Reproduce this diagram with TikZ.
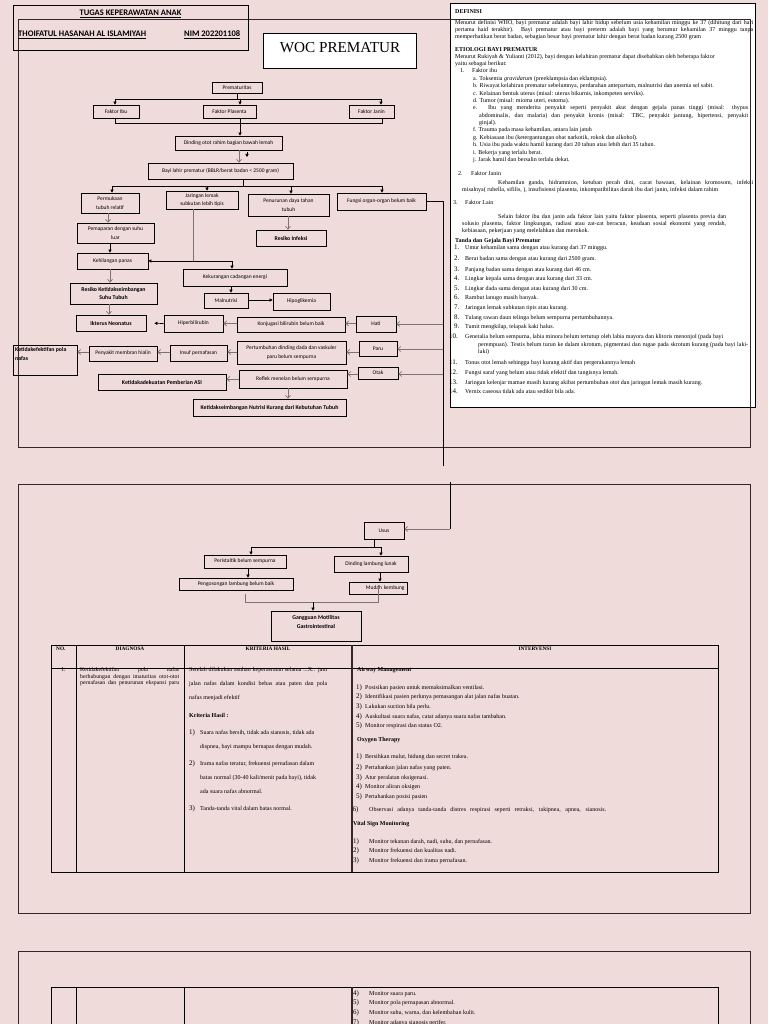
\documentclass[tikz,border=0pt]{standalone}
\usepackage{fontspec}
\setmainfont{Liberation Serif}
\newfontfamily\carl{Carlito}
\usetikzlibrary{arrows.meta}
\definecolor{bg}{RGB}{240,219,219}
\definecolor{gl}{RGB}{125,115,115}
\definecolor{fr}{RGB}{50,40,40}
\newcommand\myfs[1]{\fontsize{#1}{#1}\selectfont}
\begin{document}
\begin{tikzpicture}[x=1pt,y=-1pt,
 fb/.style={draw=black, line width=0.75pt, inner sep=1pt, align=center, font=\carl\fontsize{5.5}{8.5}\selectfont},
 fbb/.style={fb, font=\carl\bfseries\fontsize{5.8}{8.5}\selectfont},
 ln/.style={draw=black, line width=0.7pt},
 lg/.style={draw=gl, line width=0.7pt},
 arr/.style={ln, -{Triangle[length=3pt,width=3.2pt]}},
 oarr/.style={lg, -{Straight Barb[length=2.8pt,width=5pt]}},
 frame/.style={draw=fr, line width=0.9pt},
 hd/.style={inner sep=0, font=\carl\bfseries\myfs{8.5}},
 dt/.style={anchor=base west, inner sep=0, font=\myfs{6}},
 dn/.style={anchor=base west, inner sep=0, font=\myfs{7}},
 tx/.style={anchor=base west, inner sep=0, font=\myfs{6}},
 tn/.style={anchor=base west, inner sep=0, font=\myfs{7}},
 th/.style={anchor=base, inner sep=0, font=\bfseries\myfs{5.3}}]
\useasboundingbox (0,0) rectangle (768,1024);
\fill[bg] (0,0) rectangle (768,1024);

% ---------- definisi box ----------
\draw[black, fill=white, line width=0.8pt] (450,3) rectangle (755,407);
% ---------- page frames ----------
\draw[frame] (18,19) rectangle (750,447);
\draw[frame] (18,484) rectangle (750,913);
\draw[frame] (18,1030) -- (18,951) -- (750,951) -- (750,1030);

% ---------- header ----------
\draw[black, line width=0.75pt] (13,5) rectangle (248,50);
\node[hd] (h1) at (130.5,13.5) {\underline{TUGAS KEPERAWATAN ANAK}};
\node[hd, anchor=base west] (h2) at (18,37) {\underline{THOIFATUL HASANAH AL ISLAMIYAH}};
\node[hd, anchor=base west] (h3) at (184,37) {\underline{NIM 202201108}};
\draw[black, fill=white, line width=0.8pt] (263,33) rectangle (416,68);
\node[inner sep=0, font=\myfs{15.2}] (woc) at (340,48) {WOC PREMATUR};

% ---------- flowchart page 1 ----------
\node[fb, minimum width=50, minimum height=11] (prem) at (237,87.5) {Prematuritas};
\node[fb, minimum width=46, minimum height=13] (fibu) at (116,111.5) {Faktor Ibu};
\node[fb, minimum width=53, minimum height=13] (fplas) at (229.5,111.5) {Faktor Plasenta};
\node[fb, minimum width=45, minimum height=13] (fjan) at (371.5,111.5) {Faktor Janin};
\node[fb, minimum width=107, minimum height=14] (dind) at (228.5,143) {Dinding otot rahim bagian bawah lemah};
\node[fb, minimum width=145, minimum height=16] (bayi) at (220.5,171) {Bayi lahir prematur (BBLR/berat badan < 2500 gram)};
\node[fb, minimum width=58, minimum height=20] (perm) at (110,203) {Permukaan\\tubuh relatif};
\node[fb, minimum width=72, minimum height=18] (jar) at (202,200) {Jaringan lemak\\subkutan lebih tipis};
\node[fb, minimum width=81, minimum height=22] (pen) at (288.5,205) {Penurunan daya tahan\\tubuh};
\node[fb, minimum width=89, minimum height=17] (fung) at (381.5,201.5) {Fungsi organ-organ belum baik};
\node[fb, minimum width=77, minimum height=20] (pem) at (115.5,233) {Pemaparan dengan suhu\\luar};
\node[fbb, minimum width=70, minimum height=16] (resinf) at (291,238) {Resiko Infeksi};
\node[fb, minimum width=71, minimum height=16] (kehil) at (112.5,261) {Kehilangan panas};
\node[fb, minimum width=104, minimum height=17] (kekur) at (235,277.5) {Kekurangan cadangan energi};
\node[fbb, minimum width=87, minimum height=21] (resket) at (113.5,293.5) {Resiko Ketidakseimbangan\\Suhu Tubuh};
\node[fb, minimum width=44, minimum height=15] (maln) at (226,300.5) {Malnutrisi};
\node[fb, minimum width=57, minimum height=17] (hipo) at (301.5,301.5) {Hipoglikemia};
\node[fbb, minimum width=70, minimum height=16] (ikt) at (111,323) {Ikterus Neonatus};
\node[fb, minimum width=59, minimum height=17] (hiper) at (193.5,323.5) {Hiperbilirubin};
\node[fb, minimum width=108, minimum height=15] (konj) at (291,324.5) {Konjugasi bilirubin belum baik};
\node[fb, minimum width=40, minimum height=16] (hati) at (376,324) {Hati};
\node[fb, minimum width=64, minimum height=30] (ketpola) at (45,360) {};
\node[inner sep=0, align=left, anchor=north west, font=\carl\bfseries\fontsize{5.8}{8.5}\selectfont] (ketpolat) at (15,347.5) {Ketidakefektifan pola\\nafas};
\node[fb, minimum width=68, minimum height=15] (peny) at (123,353.5) {Penyakit membran hialin};
\node[fb, minimum width=57, minimum height=16] (insuf) at (198.5,353) {Insuf pernafasan};
\node[fb, minimum width=109, minimum height=23] (pert) at (291.5,352.5) {Pertumbuhan dinding dada dan vaskuler\\paru belum sempurna};
\node[fb, minimum width=38, minimum height=15] (paru) at (378,348.5) {Paru};
\node[fbb, minimum width=128, minimum height=16] (asi) at (162,382) {Ketidakadekuatan Pemberian ASI};
\node[fb, minimum width=108, minimum height=18] (refl) at (293,379) {Reflek menelan belum sempurna};
\node[fb, minimum width=40, minimum height=12] (otak) at (378,373) {Otak};
\node[fbb, minimum width=153, minimum height=17] (nutr) at (269.5,407.5) {Ketidakseimbangan Nutrisi Kurang dari Kebutuhan Tubuh};

\draw[ln] (prem.south) -- (237,99);
\draw[ln] (115,99) -- (381,99);
\draw[arr] (115,99) -- (fibu.north -| 115,0);
\draw[arr] (240,99) -- (fplas.north -| 240,0);
\draw[arr] (381,99) -- (fjan.north -| 381,0);
\draw[ln] (fibu.south -| 115,0) -- (115,123) -- (382,123) -- (fjan.south -| 382,0);
\draw[arr] (fplas.south -| 240,0) -- (dind.north -| 240,0);
\draw[oarr] (dind.south -| 239,0) -- (bayi.north -| 239,0);
\coordinate (tiny1) at (247,152);
\coordinate (tiny2) at (247,157);
\draw[arr] (tiny1) -- (tiny2);
\draw[ln] (bayi.south -| 243,0) -- (243,186);
\draw[ln] (112,186) -- (382,186);
\draw[arr] (112,186) -- (perm.north -| 112,0);
\draw[arr] (207,186) -- (jar.north -| 207,0);
\draw[arr] (291,186) -- (pen.north -| 291,0);
\draw[arr] (382,186) -- (fung.north -| 382,0);
\draw[oarr] (perm.south -| 108,0) -- (pem.north -| 108,0);
\draw[arr] (pem.south -| 110,0) -- (kehil.north -| 110,0);
\draw[lg] (jar.south -| 193,0) -- (193,261);
\draw[arr] (193,261) -- (kehil.east);
\draw[arr] (193,261) -| (kekur.north -| 232,0);
\draw[oarr] (kehil.south -| 110,0) -- (resket.north -| 110,0);
\draw[oarr] (pen.south -| 288,0) -- (resinf.north -| 288,0);
\draw[arr] (kekur.south -| 231,0) -- (maln.north -| 231,0);
\draw[arr] (maln.east |- 0,300) -- (hipo.west |- 0,300);
\draw[oarr] (resket.south -| 109,0) -- (ikt.north -| 109,0);
\draw[arr, shorten >=8pt] (hiper.west) -- (ikt.east);
\draw[oarr] (konj.west |- 0,323.5) -- (hiper.east |- 0,323.5);
\draw[oarr] (hati.west |- 0,323.5) -- (konj.east |- 0,323.5);
\coordinate (vend) at (443,466);
\draw[ln] (fung.east) -| (vend);
\draw[oarr] (443,324) -- (hati.east);
\draw[oarr] (443,349) -- (paru.east |- 0,349);
\draw[oarr] (443,374) -- (otak.east |- 0,374);
\draw[oarr] (paru.west |- 0,352) -- (pert.east |- 0,352);
\draw[oarr] (pert.west |- 0,352) -- (insuf.east |- 0,352);
\draw[oarr] (insuf.west |- 0,352) -- (peny.east |- 0,352);
\draw[oarr] (peny.west |- 0,352) -- (ketpola.east |- 0,352);
\draw[oarr] (otak.west |- 0,374) -- (refl.east |- 0,374);
\draw[oarr] (refl.west |- 0,379) -- (asi.east |- 0,379);
\draw[oarr] (refl.south -| 288,0) -- (nutr.north -| 288,0);

% ---------- definisi text ----------
\node[dt] (d0) at (455,13.5) {\textbf{DEFINISI}};
\node[dt] (d1) at (455,24.5) {\makebox[298pt][s]{Menurut definisi WHO, bayi prematur adalah bayi lahir hidup sebelum usia kehamilan minggu ke 37 (dihitung dari hari}};
\node[dt] (d2) at (455,31.5) {\makebox[298pt][s]{pertama haid terakhir). Bayi prematur atau bayi preterm adalah bayi yang berumur kehamilan 37 minggu tanpa}};
\node[dt] (d3) at (455,38.5) {memperhatikan berat badan, sebagian besar bayi prematur lahir dengan berat badan kurang 2500 gram};
\node[dt] (d4) at (455,52) {\textbf{ETIOLOGI BAYI PREMATUR}};
\node[dt] (d5) at (455,59) {Menurut Rukiyah \& Yulianti (2012), bayi dengan kelahiran prematur dapat disebabkan oleh beberapa faktor};
\node[dt] (d6) at (455,66) {yaitu sebagai berikut:};
\node[dt] (d7) at (460,73) {1.};
\node[dt] (d7b) at (472,73) {Faktor ibu};
\node[dt] (da) at (473,80.5) {a. Toksemia \textit{gravidarum} (preeklampsia dan eklampsia).};
\node[dt] (db) at (473,87.9) {b. Riwayat kelahiran prematur sebelumnya, perdarahan antepartum, malnutrisi dan anemia sel sabit.};
\node[dt] (dc) at (473,95.2) {c. Kelainan bentuk uterus (misal: uterus bikurnis, inkompeten serviks).};
\node[dt] (dd) at (473,102.5) {d. Tumor (misal: mioma uteri, eutoma).};
\node[dt] (de) at (473,109.9) {\makebox[275pt][s]{e. Ibu yang menderita penyakit seperti penyakit akut dengan gejala  panas tinggi (misal: thypus}};
\node[dt] (de2) at (479,117.3) {\makebox[269pt][s]{abdominalis, dan malaria) dan penyakit kronis (misal: TBC, penyakit jantung, hipertensi, penyakit}};
\node[dt] (de3) at (479,124.7) {ginjal).};
\node[dt] (df) at (473,132) {f. Trauma pada masa kehamilan, antara lain jatuh};
\node[dt] (dg) at (473,139.4) {g. Kebiasaan ibu (ketergantungan obat narkotik, rokok dan alkohol).};
\node[dt] (dh) at (473,146.8) {h. Usia ibu pada waktu hamil kurang dari 20 tahun atau lebih dari 35 tahun.};
\node[dt] (di) at (473,154.1) {i. Bekerja yang terlalu berat.};
\node[dt] (dj) at (473,161.5) {j. Jarak hamil dan bersalin terlalu dekat.};
\node[dt] (dk) at (458,175.5) {2.};
\node[dt] (dk2) at (471,175.5) {Faktor Janin};
\node[dt] (dk3) at (498,184.5) {\makebox[255pt][s]{Kehamilan ganda, hidramnion, ketuban pecah dini, cacat bawaan, kelainan kromosom, infeksi}};
\node[dt] (dk4) at (462,191.5) {misalnya( rubella, sifilis, ), insufisiensi plasenta, inkompatibilitas darah ibu dari janin, infeksi dalam rahim};
\node[dt] (dl) at (453,204.5) {3.};
\node[dt] (dl2) at (465,204.5) {Faktor Lain};
\node[dt] (dl3) at (498,218.5) {\makebox[228pt][s]{Selain faktor ibu dan janin ada faktor lain yaitu faktor plasenta, seperti plasenta previa dan}};
\node[dt] (dl4) at (462,225.5) {\makebox[264pt][s]{solusio plasenta, faktor lingkungan, radiasi atau zat-zat beracun, keadaan sosial ekonomi yang rendah,}};
\node[dt] (dl5) at (462,232.5) {kebiasaan, pekerjaan yang melelahkan dan merokok.};
\node[dt] (dm) at (455,242.5) {\textbf{Tanda dan Gejala Bayi Prematur}};
\node[dn] (n1) at (454,249.5) {1.};  \node[dt] (t1) at (465,249.5) {Umur kehamilan sama dengan atau kurang dari 37 minggu.};
\node[dn] (n2) at (454,260) {2.};    \node[dt] (t2) at (465,260) {Berat badan sama dengan atau kurang dari 2500 gram.};
\node[dn] (n3) at (454,271) {3.};    \node[dt] (t3) at (465,271) {Panjang badan sama dengan atau kurang dari 46 cm.};
\node[dn] (n4) at (454,280.5) {4.};  \node[dt] (t4) at (465,280.5) {Lingkar kepala sama dengan atau kurang dari 33 cm.};
\node[dn] (n5) at (454,290) {5.};    \node[dt] (t5) at (465,290) {Lingkar dada sama dengan atau kurang dari 30 cm.};
\node[dn] (n6) at (454,299.5) {6.};  \node[dt] (t6) at (465,299.5) {Rambut lanugo masih banyak.};
\node[dn] (n7) at (454,309) {7.};    \node[dt] (t7) at (465,309) {Jaringan lemak subkutan tipis atau kurang.};
\node[dn] (n8) at (454,319) {8.};    \node[dt] (t8) at (465,319) {Tulang rawan daun telinga belum sempurna pertumbuhannya.};
\node[dn] (n9) at (454,328.5) {9.};  \node[dt] (t9) at (465,328.5) {Tumit mengkilap, telapak kaki halus.};
\node[dn] (n10) at (449,338.5) {10.}; \node[dt] (t10) at (465,338.5) {Genetalia belum sempurna, labia minora belum tertutup oleh labia mayora dan klitoris menonjol (pada bayi};
\node[dt] (t10b) at (478,346.5) {\makebox[270pt][s]{perempuan). Testis belum turun ke dalam skrotum, pigmentasi dan rugae pada skrotum kurang (pada bayi laki-}};
\node[dt] (t10c) at (478,353.5) {laki)};
\node[dn] (n11) at (449,364.5) {11.}; \node[dt] (t11) at (465,364.5) {Tonus otot lemah sehingga bayi kurang aktif dan pergerakannya lemah};
\node[dn] (n12) at (449,374.5) {12.}; \node[dt] (t12) at (465,374.5) {Fungsi saraf yang belum atau tidak efektif dan tangisnya lemah.};
\node[dn] (n13) at (449,384) {13.};   \node[dt] (t13) at (465,384) {Jaringan kelenjar mamae masih kurang akibat pertumbuhan otot dan jaringan lemak masih kurang.};
\node[dn] (n14) at (449,393.5) {14.}; \node[dt] (t14) at (465,393.5) {Vernix caseosa tidak ada atau sedikit bila ada.};

% ---------- page 2 flowchart ----------
\node[fb, minimum width=40, minimum height=17] (usus) at (384,530.5) {Usus};
\node[fb, minimum width=82, minimum height=13] (peri) at (245,561.5) {Peristaltik belum sempurna};
\node[fb, minimum width=74, minimum height=16] (dinl) at (371,564) {Dinding lambung lunak};
\node[fb, minimum width=114, minimum height=12] (peng) at (236,584) {Pengosongan lambung belum baik};
\node[fb, minimum width=58, minimum height=12, align=right, text width=53] (mud) at (378,588) {Mudah kembung};
\node[fb, minimum width=90, minimum height=30] (gang) at (316,626) {};
\node[inner sep=0, align=center, font=\carl\bfseries\fontsize{5.8}{9}\selectfont] (gangt) at (316,621.5) {Gangguan Motilitas\\Gastrointestinal};
\coordinate (p2top) at (450,482);
\draw[ln] (p2top) -- (450,529);
\draw[oarr] (450,529) -- (usus.east |- 0,529);
\draw[ln] (usus.south -| 374,0) -- (374,547);
\draw[ln] (251,547) -- (381,547);
\draw[arr] (251,547) -- (peri.north -| 251,0);
\draw[arr] (381,547) -- (dinl.north -| 381,0);
\draw[arr] (peri.south -| 248,0) -- (peng.north -| 248,0);
\draw[arr] (dinl.south -| 380,0) -- (mud.north -| 380,0);
\draw[lg] (245,594) -- (245,602) -- (378,602) -- (378,585);
\draw[arr] (313,602) -- (gang.north -| 313,0);

% ---------- table page 2 ----------
\draw[black, line width=0.8pt] (51,645) rectangle (718,872);
\draw[black, line width=0.8pt] (51,668) -- (718,668);
\draw[black, line width=0.8pt] (76,645) -- (76,872);
\draw[black, line width=0.8pt] (184,645) -- (184,872);
\draw[fr, line width=1.3pt] (352,645) -- (352,872);
\node[th, anchor=base west] (hno) at (56,650.5) {NO.};
\node[th] (hdg) at (130,650.5) {DIAGNOSA};
\node[th] (hkr) at (268,650.5) {KRITERIA HASIL};
\node[th] (hiv) at (535,650.5) {INTERVENSI};
\node[tx] (r1) at (61,671.5) {1.};
\node[tx, font=\myfs{5.8}] (g1) at (80,671.5) {\makebox[99pt][s]{Ketidakefektifan pola nafas}};
\node[tx, font=\myfs{5.8}] (g2) at (80,678) {\makebox[99pt][s]{berhubungan dengan imaturitas otot-otot}};
\node[tx, font=\myfs{5.8}] (g3) at (80,684.5) {\makebox[99pt][s]{pernafasan dan penurunan ekspansi paru}};
\node[tx] (k1) at (189,671.5) {\makebox[138pt][s]{Setelah dilakukan asuhan keperawatan selama ...X.. jam}};
\node[tx] (k2) at (189,685.5) {\makebox[138pt][s]{jalan nafas dalam kondisi bebas atau paten dan pola}};
\node[tx] (k3) at (189,699.5) {nafas menjadi efektif};
\node[tx] (k4) at (189,717.5) {\textbf{Kriteria Hasil :}};
\node[tn] (kn1) at (189,734) {1)}; \node[tx] (k5) at (200,734) {Suara nafas bersih, tidak ada sianosis, tidak ada};
\node[tx] (k6) at (200,748) {dispnea, bayi mampu bernapas dengan mudah.};
\node[tn] (kn2) at (189,765) {2)}; \node[tx] (k7) at (200,765) {Irama nafas teratur, frekuensi pernafasan dalam};
\node[tx] (k8) at (200,779) {batas normal (30-40  kali/menit pada bayi), tidak};
\node[tx] (k9) at (200,793) {ada suara nafas abnormal.};
\node[tn] (kn3) at (189,810) {3)}; \node[tx] (k10) at (200,810) {Tanda-tanda vital dalam batas normal.};
\node[tx] (i0) at (357,671.5) {\textbf{Airway Management}};
\node[tn] (in1) at (356,689) {1)}; \node[tx] (i1) at (365,689) {Posisikan pasien untuk memaksimalkan ventilasi.};
\node[tn] (in2) at (356,698) {2)}; \node[tx] (i2) at (365,698) {Identifikasi pasien perlunya pemasangan alat jalan nafas buatan.};
\node[tn] (in3) at (356,708) {3)}; \node[tx] (i3) at (365,708) {Lakukan suction bila perlu.};
\node[tn] (in4) at (356,718) {4)}; \node[tx] (i4) at (365,718) {Auskultasi suara nafas, catat adanya suara nafas tambahan.};
\node[tn] (in5) at (356,727.5) {5)}; \node[tx] (i5) at (365,727.5) {Monitor respirasi dan status O2.};
\node[tx] (o0) at (357,741.5) {\textbf{Oxygen Therapy}};
\node[tn] (on1) at (356,758.5) {1)}; \node[tx] (o1) at (365,758.5) {Bersihkan mulut, hidung dan secret trakea.};
\node[tn] (on2) at (356,769) {2)}; \node[tx] (o2) at (365,769) {Pertahankan jalan nafas yang paten.};
\node[tn] (on3) at (356,779) {3)}; \node[tx] (o3) at (365,779) {Atur peralatan oksigenasi.};
\node[tn] (on4) at (356,788.5) {4)}; \node[tx] (o4) at (365,788.5) {Monitor aliran oksigen};
\node[tn] (on5) at (356,798.5) {5)}; \node[tx] (o5) at (365,798.5) {Pertahankan posisi pasien};
\node[tn] (on6) at (352.5,811.5) {6)}; \node[tx] (o6) at (369,811.5) {\makebox[237pt][s]{Observasi  adanya  tanda-tanda  distres  respirasi  seperti  retraksi, takipnea, apnea, sianosis.}};
\node[tx] (v0) at (353,825.5) {\textbf{Vital Sign Monitoring}};
\node[tn] (vn1) at (353,843.5) {1)}; \node[tx] (v1) at (369,843.5) {Monitor tekanan darah, nadi, suhu, dan pernafasan.};
\node[tn] (vn2) at (353,852.5) {2)}; \node[tx] (v2) at (369,852.5) {Monitor frekuensi dan kualitas nadi.};
\node[tn] (vn3) at (353,862.5) {3)}; \node[tx] (v3) at (369,862.5) {Monitor frekuensi dan irama pernafasan.};

% ---------- table page 3 ----------
\draw[black, line width=0.8pt] (51,1030) -- (51,987) -- (718,987) -- (718,1030);
\draw[black, line width=0.8pt] (76,987) -- (76,1030);
\draw[black, line width=0.8pt] (184,987) -- (184,1030);
\draw[fr, line width=1.3pt] (352,987) -- (352,1030);
\node[tn] (wn4) at (353,995) {4)}; \node[tx] (w4) at (369,995) {Monitor suara paru.};
\node[tn] (wn5) at (353,1004.5) {5)}; \node[tx] (w5) at (369,1004.5) {Monitor pola pernapasan abnormal.};
\node[tn] (wn6) at (353,1014.5) {6)}; \node[tx] (w6) at (369,1014.5) {Monitor suhu, warna, dan kelembaban kulit.};
\node[tn] (wn7) at (353,1024) {7)}; \node[tx] (w7) at (369,1024) {Monitor adanya sianosis perifer.};
\end{tikzpicture}
\end{document}
